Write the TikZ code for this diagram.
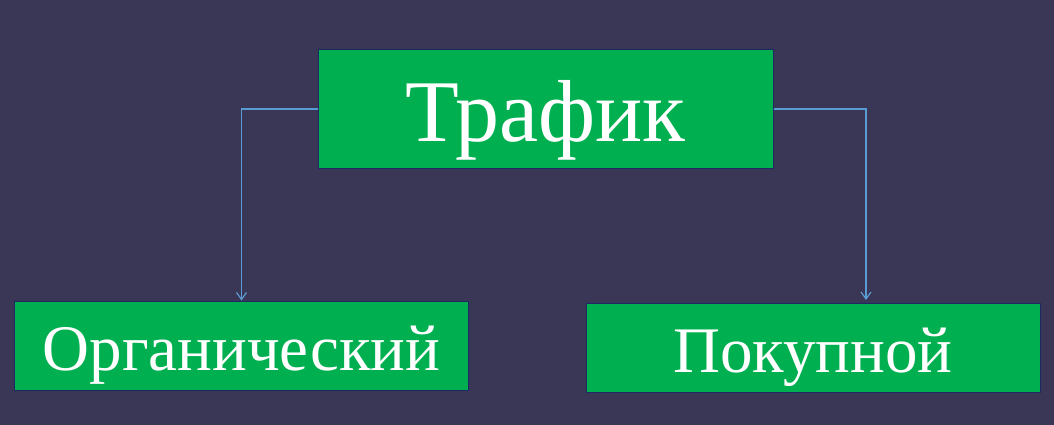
\documentclass[tikz,border=0pt]{standalone}
\usepackage{fontspec}
\setmainfont{Liberation Serif}
\usetikzlibrary{arrows.meta}
\definecolor{bg}{RGB}{58,54,85}
\definecolor{boxgreen}{RGB}{0,176,80}
\definecolor{boxline}{RGB}{30,40,100}
\definecolor{link}{RGB}{91,155,213}

\begin{document}
\begin{tikzpicture}[x=1pt, y=-1pt, >={Straight Barb[length=7pt,width=10pt]},
        main/.style = {draw=boxline, fill=boxgreen, text=white, line width=1pt, inner sep=0pt, text depth=0pt},
        big/.style = {main, minimum width=455pt, minimum height=118pt, font=\fontsize{88}{88}\selectfont, text height=64pt},
        small/.style = {main, minimum width=454pt, minimum height=89pt, font=\fontsize{65}{65}\selectfont, text height=49pt},
        edge/.style = {draw=link, line width=1.2pt}]
        % background
        \fill[bg] (0,0) rectangle (1054,425);

        \node[big] (traffic) at (545.5,109) {Трафик};
        \node[small] (organic) at (241.5,345.5) {Органический};
        \node[small] (paid) at (813,348) {Покупной};

        % links
        \draw[edge, ->] (traffic.west) -| (organic.north);
        \draw[edge, ->] (traffic.east) -| ([xshift=53pt, yshift=3pt]paid.north);
    \end{tikzpicture}
\end{document}
